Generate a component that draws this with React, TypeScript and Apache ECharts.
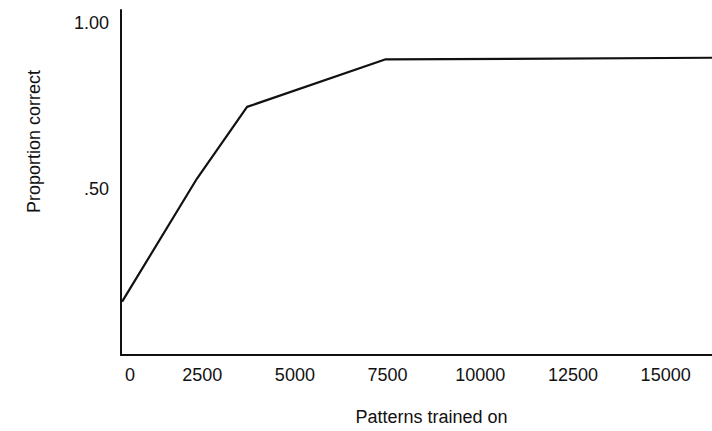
import React, { useEffect, useRef } from "react";
import * as echarts from "echarts";

// Data
const patternsTrained = [340, 2360, 3710, 7430, 16250];
const proportionCorrect = [0.161, 0.532, 0.748, 0.891, 0.896];

const xTickValues = [0, 2500, 5000, 7500, 10000, 12500, 15000];
const yTickValues = [0.5, 1.0];
const yTickLabels = [".50", "1.00"];

const xMin = 310;
const xMax = 16250;
const yMin = 0;
const yMax = 1.04;

const FONT = "'Liberation Sans', Arial, Helvetica, sans-serif";

export default function App() {
  const ref = useRef<HTMLDivElement>(null);

  useEffect(() => {
    if (!ref.current) return;
    const chart = echarts.init(ref.current, undefined, { renderer: "svg" });
    chart.setOption({
      animation: false,
      backgroundColor: "#ffffff",
      grid: { left: 121, right: 0, top: 10, bottom: 76, containLabel: false },
      xAxis: {
        type: "value",
        min: xMin,
        max: xMax,
        name: "Patterns trained on",
        nameLocation: "middle",
        nameGap: 53,
        nameTextStyle: {
          fontFamily: FONT,
          fontSize: 18,
          color: "#111",
          padding: [0, 0, 0, 30],
        },
        axisLine: { show: true, onZero: false, lineStyle: { color: "#111", width: 2 } },
        axisTick: { show: false },
        splitLine: { show: false },
        axisLabel: {
          customValues: xTickValues.map((v) => Math.max(v, xMin)),
          margin: 11,
          fontFamily: FONT,
          fontSize: 18,
          color: "#111",
          formatter: (v: number) => (v <= xMin ? "{z|0}" : String(v)),
          rich: {
            z: { fontFamily: FONT, fontSize: 18, color: "#111", padding: [0, 0, 0, 18] },
          },
        },
      },
      yAxis: {
        type: "value",
        min: yMin,
        max: yMax,
        name: "Proportion correct",
        nameLocation: "middle",
        nameGap: 78,
        nameTextStyle: {
          fontFamily: FONT,
          fontSize: 18,
          color: "#111",
          padding: [0, 0, 0, 82],
        },
        axisLine: { show: true, onZero: false, lineStyle: { color: "#111", width: 2 } },
        axisTick: { show: false },
        splitLine: { show: false },
        axisLabel: {
          customValues: yTickValues,
          margin: 12,
          fontFamily: FONT,
          fontSize: 18,
          color: "#111",
          formatter: (v: number) => {
            const i = yTickValues.findIndex((t) => Math.abs(t - v) < 1e-9);
            return i >= 0 ? yTickLabels[i] : "";
          },
        },
      },
      series: [
        {
          type: "line",
          data: patternsTrained.map((x, i) => [x, proportionCorrect[i]]),
          showSymbol: false,
          symbol: "none",
          smooth: false,
          clip: false,
          lineStyle: { color: "#111", width: 2.2 },
        },
      ],
    });
    return () => chart.dispose();
  }, []);

  return (
    <div
      ref={ref}
      style={{ position: "fixed", left: 0, top: 0, width: 712, height: 431, background: "#fff" }}
    />
  );
}
